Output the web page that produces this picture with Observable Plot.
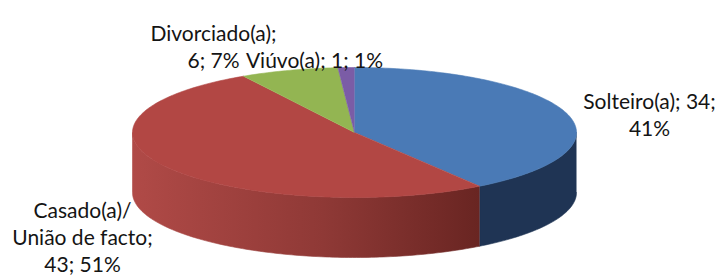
<!DOCTYPE html>
<html>
<head>
<meta charset="utf-8">
<script src="https://cdn.jsdelivr.net/npm/d3@7"></script>
<script src="https://cdn.jsdelivr.net/npm/@observablehq/plot@0.6"></script>
<style>
  html, body { margin: 0; padding: 0; background: #ffffff; }
  #chart svg { display: block; }
</style>
</head>
<body>
<div id="chart"></div>
<script>
// ---- data ----
const categories = ["Solteiro(a)", "Casado(a)/União de facto", "Divorciado(a)", "Viúvo(a)"];
const counts = [34, 43, 6, 1];
const percentLabels = ["41%", "51%", "7%", "1%"];
const labelTexts = [
  "Solteiro(a); 34;\n41%",
  "Casado(a)/\nUnião de facto;\n43; 51%",
  "Divorciado(a);\n6; 7%",
  "Viúvo(a); 1; 1%"
];

// ---- styles / layout ----
const topColors = ["#4a7ab6", "#b24744", "#93b552", "#7b5ca6"];
const wallColors = ["#1f3454", "url(#redWall)", "#6b8a36", "#56407a"];
const W = 719, H = 275;
const cx = 354, cy = 132, rx = 222, ry = 65, depth = 60;
// label anchors (cap-top of first line, centre x)
const labelLayout = [
  {x: 649, y: 89},
  {x: 82, y: 198},
  {x: 213, y: 21},
  {x: 314, y: 48}
];

const arcs = d3.pie().sort(null).value(d => d)(counts);
const px = a => cx + rx * Math.sin(a);
const py = a => cy - ry * Math.cos(a);

function arcPoints(a0, a1, dy = 0) {
  const n = Math.max(2, Math.ceil((a1 - a0) / (Math.PI / 180)));
  const pts = [];
  for (let k = 0; k <= n; k++) {
    const a = a0 + (a1 - a0) * k / n;
    pts.push({x: px(a), y: py(a) + dy});
  }
  return pts;
}

const wallMarks = [];
const topMarks = [];
arcs.forEach((arc, i) => {
  const lo = Math.max(arc.startAngle, Math.PI / 2);
  const hi = Math.min(arc.endAngle, 3 * Math.PI / 2);
  if (lo < hi) {
    const pts = arcPoints(lo, hi).concat(arcPoints(lo, hi, depth).reverse());
    wallMarks.push(Plot.line(pts, {x: "x", y: "y", fill: wallColors[i], stroke: wallColors[i], strokeWidth: 0.6}));
  }
  const top = [{x: cx, y: cy}].concat(arcPoints(arc.startAngle, arc.endAngle));
  topMarks.push(Plot.line(top, {x: "x", y: "y", fill: topColors[i], stroke: topColors[i], strokeWidth: 0.6}));
});

const labels = labelTexts.map((t, i) => ({text: t, x: labelLayout[i].x, y: labelLayout[i].y}));

const defsMark = (index, scales) => {
  const defs = d3.create("svg:defs");
  const g = defs.append("linearGradient")
    .attr("id", "redWall")
    .attr("gradientUnits", "userSpaceOnUse")
    .attr("x1", scales.x(cx - rx)).attr("x2", scales.x(px(arcs[0].endAngle)))
    .attr("y1", 0).attr("y2", 0);
  g.append("stop").attr("offset", "0%").attr("stop-color", "#b04a47");
  g.append("stop").attr("offset", "55%").attr("stop-color", "#8f3936");
  g.append("stop").attr("offset", "100%").attr("stop-color", "#692522");
  return defs.node();
};

const chart = Plot.plot({
  width: W,
  height: H,
  margin: 0,
  x: {domain: [0, W], range: [0, W], axis: null},
  y: {domain: [0, H], range: [0, H], axis: null},
  style: {background: "#ffffff", fontFamily: "Lato, 'Open Sans', sans-serif"},
  marks: [
    defsMark,
    ...wallMarks,
    ...topMarks,
    Plot.text(labels, {
      x: "x", y: "y", text: "text",
      textAnchor: "middle", lineAnchor: "top",
      lineHeight: 1.3, fontSize: 21, fill: "#141414"
    })
  ]
});
document.getElementById("chart").appendChild(chart);
</script>
</body>
</html>
